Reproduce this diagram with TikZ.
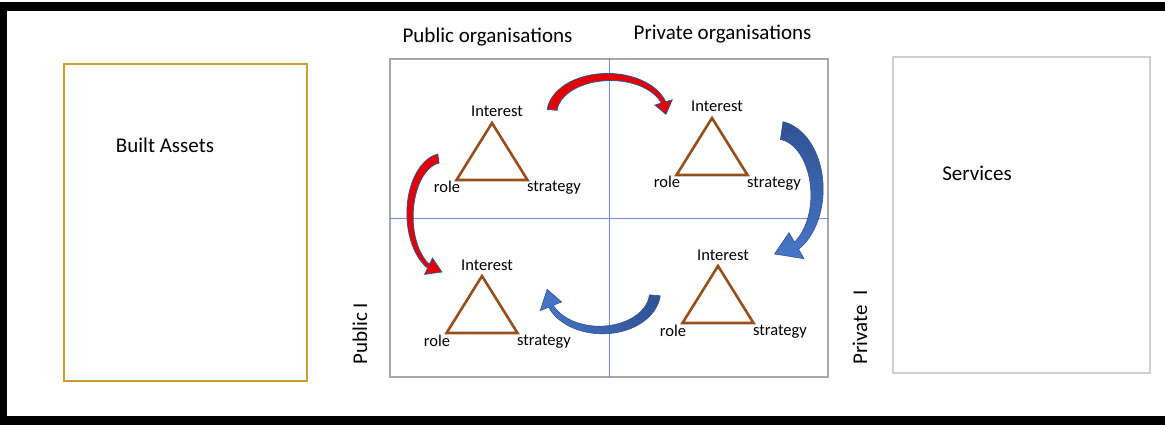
\documentclass[tikz,border=0pt]{standalone}
\usepackage{fontspec}
\setmainfont{Carlito}
\usepackage{tikz}
\usetikzlibrary{positioning}
\definecolor{assetgold}{RGB}{201,160,45}
\definecolor{quadgray}{RGB}{168,168,168}
\definecolor{servicegray}{RGB}{208,208,208}
\definecolor{axisblue}{RGB}{110,145,215}
\definecolor{trianglebrown}{RGB}{150,78,28}
\definecolor{arrowred}{RGB}{228,0,0}
\definecolor{arrowdark}{RGB}{47,82,148}
\definecolor{arrowlight}{RGB}{72,118,200}
\tikzset{outerframe/.style = {draw=black, line width=9},
         assetbox/.style = {draw=assetgold, line width=2, inner sep=0},
         quadbox/.style = {draw=quadgray, line width=2.5, inner sep=0},
         servicebox/.style = {draw=servicegray, line width=2, inner sep=0},
         axis/.style = {axisblue, line width=1},
         triangle/.style = {trianglebrown, line width=2.6},
         biglabel/.style = {font=\fontsize{21}{25}\selectfont, inner sep=0, anchor=base},
         smalllabel/.style = {font=\fontsize{16.5}{20}\selectfont, inner sep=0, anchor=base},
         redarrow/.style = {fill=arrowred, draw=arrowdark, line width=0.8},
         bluedown/.style = {top color=arrowdark, bottom color=arrowlight, draw=arrowdark, line width=0.6},
         blueleft/.style = {right color=arrowdark, left color=arrowlight, draw=arrowdark, line width=0.6}}
% bent block arrow along an ellipse:
% style, centre, rx, ry, tail angle, head angle, tip angle, tail width, head width
\newcommand{\bentarrow}[9]{%
  \path[#1, shift={#2}]
    plot[domain=#5:#6, samples=40]
      ({(#3+#8*(1-.55*(\x-(#5))/((#6)-(#5)))/2)*cos(\x)}, {(#4+#8*(1-.55*(\x-(#5))/((#6)-(#5)))/2)*sin(\x)})
    -- ({(#3+#9/2)*cos(#6)}, {(#4+#9/2)*sin(#6)})
    -- ({#3*cos(#7)}, {#4*sin(#7)})
    -- ({(#3-#9/2)*cos(#6)}, {(#4-#9/2)*sin(#6)})
    -- plot[domain=#6:#5, samples=40]
      ({(#3-#8*(1-.55*(\x-(#5))/((#6)-(#5)))/2)*cos(\x)}, {(#4-#8*(1-.55*(\x-(#5))/((#6)-(#5)))/2)*sin(\x)})
    -- cycle;}

\begin{document}
\begin{tikzpicture}[x=1pt, y=-1pt]
  \useasboundingbox (0,0) rectangle (1165,425);
  \clip (0,0) rectangle (1165,425);
  \draw[outerframe] (2,7) rectangle (1200,420);

  % the three boxes
  \node[assetbox, minimum width=243, minimum height=317] (assets) at (185.5,222.5) {};
  \node[quadbox, minimum width=438, minimum height=318] (quad) at (609,218) {};
  \node[servicebox, minimum width=257, minimum height=316] (services) at (1021.5,215) {};
  \draw[axis] (quad.north) -- (quad.south);
  \draw[axis] (quad.west) -- (quad.east);

  \node[biglabel] (assets-text) at (165,153) {Built Assets};
  \node[biglabel] (services-text) at (977,181) {Services};
  \node[biglabel] (public-top) at (487.5,43) {Public organisations};
  \node[biglabel] (private-top) at (722.5,40) {Private organisations};
  \node[biglabel, rotate=90] (public-side) at (367,333.5) {Public I};
  \node[biglabel, rotate=90] (private-side) at (867,327.5) {Private\ \ I};

  % one triangle per quadrant
  \foreach \tri/\ax/\ay in {pubup/492/123, privup/712/118, publow/482/276, privlow/718/266} {
    \draw[triangle] (\ax,\ay) coordinate (\tri-top) -- ++(35.5,57) coordinate (\tri-right)
      -- ++(-71,0) coordinate (\tri-left) -- cycle;
    \node[smalllabel] (\tri-interest) at (\ax+5,\ay-6) {Interest};
    \node[smalllabel] (\tri-role) at (\ax-45,\ay+70) {role};
    \node[smalllabel] (\tri-strategy) at (\ax+62,\ay+69) {strategy};
  }

  % arrows between the quadrants
  \bentarrow{redarrow}{(609,113)}{57}{36}{185}{343}{362}{10}{18}
  \bentarrow{redarrow}{(443,215)}{33}{57}{262}{116}{92}{9}{18}
  \bentarrow{bluedown}{(776,192)}{41}{62}{-82}{60}{92}{18}{30}
  \bentarrow{blueleft}{(601,292)}{54}{38}{5}{158}{184}{11}{23}
\end{tikzpicture}
\end{document}
